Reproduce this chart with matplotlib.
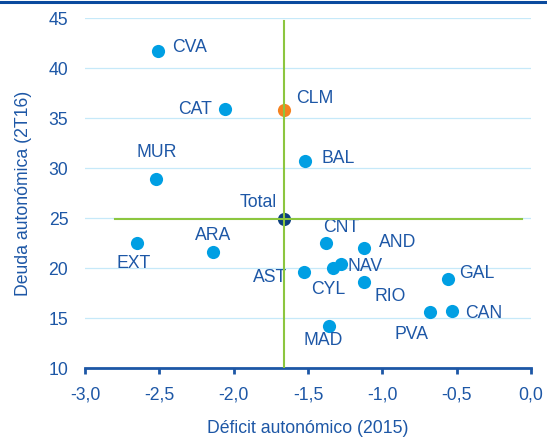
import matplotlib
matplotlib.use("Agg")
import matplotlib.pyplot as plt
from matplotlib.lines import Line2D

plt.rcParams['font.family'] = ['Liberation Sans', 'DejaVu Sans']

# datos: déficit 2015 (x) y deuda 2T16 (y) por comunidad
regiones = ["CVA", "CAT", "MUR", "BAL", "EXT", "ARA", "AST", "CNT",
            "AND", "NAV", "CYL", "RIO", "GAL", "CAN", "PVA", "MAD"]
deficit = [-2.51, -2.06, -2.52, -1.52, -2.65, -2.14, -1.53, -1.38,
           -1.12, -1.28, -1.33, -1.12, -0.56, -0.53, -0.68, -1.36]
deuda = [41.7, 35.9, 28.9, 30.7, 22.5, 21.6, 19.6, 22.5,
         22.0, 20.4, 20.0, 18.6, 18.9, 15.7, 15.6, 14.2]

clm_x, clm_y = -1.66, 35.8
total_x, total_y = -1.66, 24.9

xticks = [-3.0, -2.5, -2.0, -1.5, -1.0, -0.5, 0.0]
yticks = [10, 15, 20, 25, 30, 35, 40, 45]

azul_txt = "#1d57a6"
azul_pt = "#009fe3"
verde = "#8cc63f"

# posición de cada etiqueta respecto al punto (pixeles) y alineación
etiquetas = {
    "CVA": (14, 4, "left"), "CAT": (-13, 0, "right"), "MUR": (0, 27, "center"),
    "BAL": (16, 3, "left"), "EXT": (-3, -20, "center"), "ARA": (0, 17, "center"),
    "AST": (-16, -5, "right"), "CNT": (15, 16, "center"), "AND": (14, 6, "left"),
    "NAV": (7, -2, "left"), "CYL": (-5, -21, "center"), "RIO": (10, -14, "left"),
    "GAL": (11, 6, "left"), "CAN": (13, -2, "left"), "PVA": (-18, -22, "center"),
    "MAD": (-6, -14, "center"),
}

fig = plt.figure(figsize=(5.47, 4.38), dpi=100)
ax = fig.add_axes([0.1554, 0.159, 0.8153, 0.799])

fs = 12.7

ax.scatter(deficit, deuda, s=90, color=azul_pt, zorder=3, linewidths=0)
ax.scatter([clm_x], [clm_y], s=90, color="#f58220", zorder=3, linewidths=0)
ax.scatter([total_x], [total_y], s=90, color="#0b3f7f", zorder=3, linewidths=0)

# líneas de referencia (media)
ax.plot([total_x, total_x], [10, 44.7], color=verde, lw=1.5, zorder=4)
ax.plot([-2.8, -0.06], [total_y, total_y], color=verde, lw=1.5, zorder=4)

for r, x, y in zip(regiones, deficit, deuda):
    dx, dy, ha = etiquetas[r]
    ax.annotate(r, (x, y), xytext=(dx, dy), textcoords="offset pixels",
                ha=ha, va="center", color=azul_txt, fontsize=fs)
ax.annotate("CLM", (clm_x, clm_y), xytext=(12, 12), textcoords="offset pixels",
            ha="left", va="center", color=azul_txt, fontsize=fs)
ax.annotate("Total", (total_x, total_y), xytext=(-7, 17), textcoords="offset pixels",
            ha="right", va="center", color=azul_txt, fontsize=fs)

ax.set_xlim(-3.0, 0.0)
ax.set_ylim(10, 45)
ax.set_xticks(xticks)
ax.set_xticklabels([f"{t:.1f}".replace(".", ",") for t in xticks])
ax.set_yticks(yticks)
ax.set_yticklabels([str(t) for t in yticks])

ax.grid(axis="y", color="#c6e9f9", lw=0.9, zorder=0)
ax.set_axisbelow(True)
for s in ["top", "right", "left"]:
    ax.spines[s].set_visible(False)
ax.spines["bottom"].set_color(azul_txt)
ax.spines["bottom"].set_linewidth(2)
ax.tick_params(axis="x", colors=azul_txt, direction="out", length=4, width=2,
               labelsize=fs, pad=9)
ax.tick_params(axis="y", colors=azul_txt, length=0, labelsize=fs, pad=12)

ax.set_xlabel("Déficit autonómico (2015)", color=azul_txt, fontsize=fs, labelpad=12)
ax.set_ylabel("Deuda autonómica (2T16)", color=azul_txt, fontsize=fs, labelpad=12)

# barra superior
fig.add_artist(Line2D([0, 1], [1 - 1.5 / 438] * 2, transform=fig.transFigure,
                      color="#0a4a9e", lw=2.2))

fig.savefig("out.png", dpi=100)
